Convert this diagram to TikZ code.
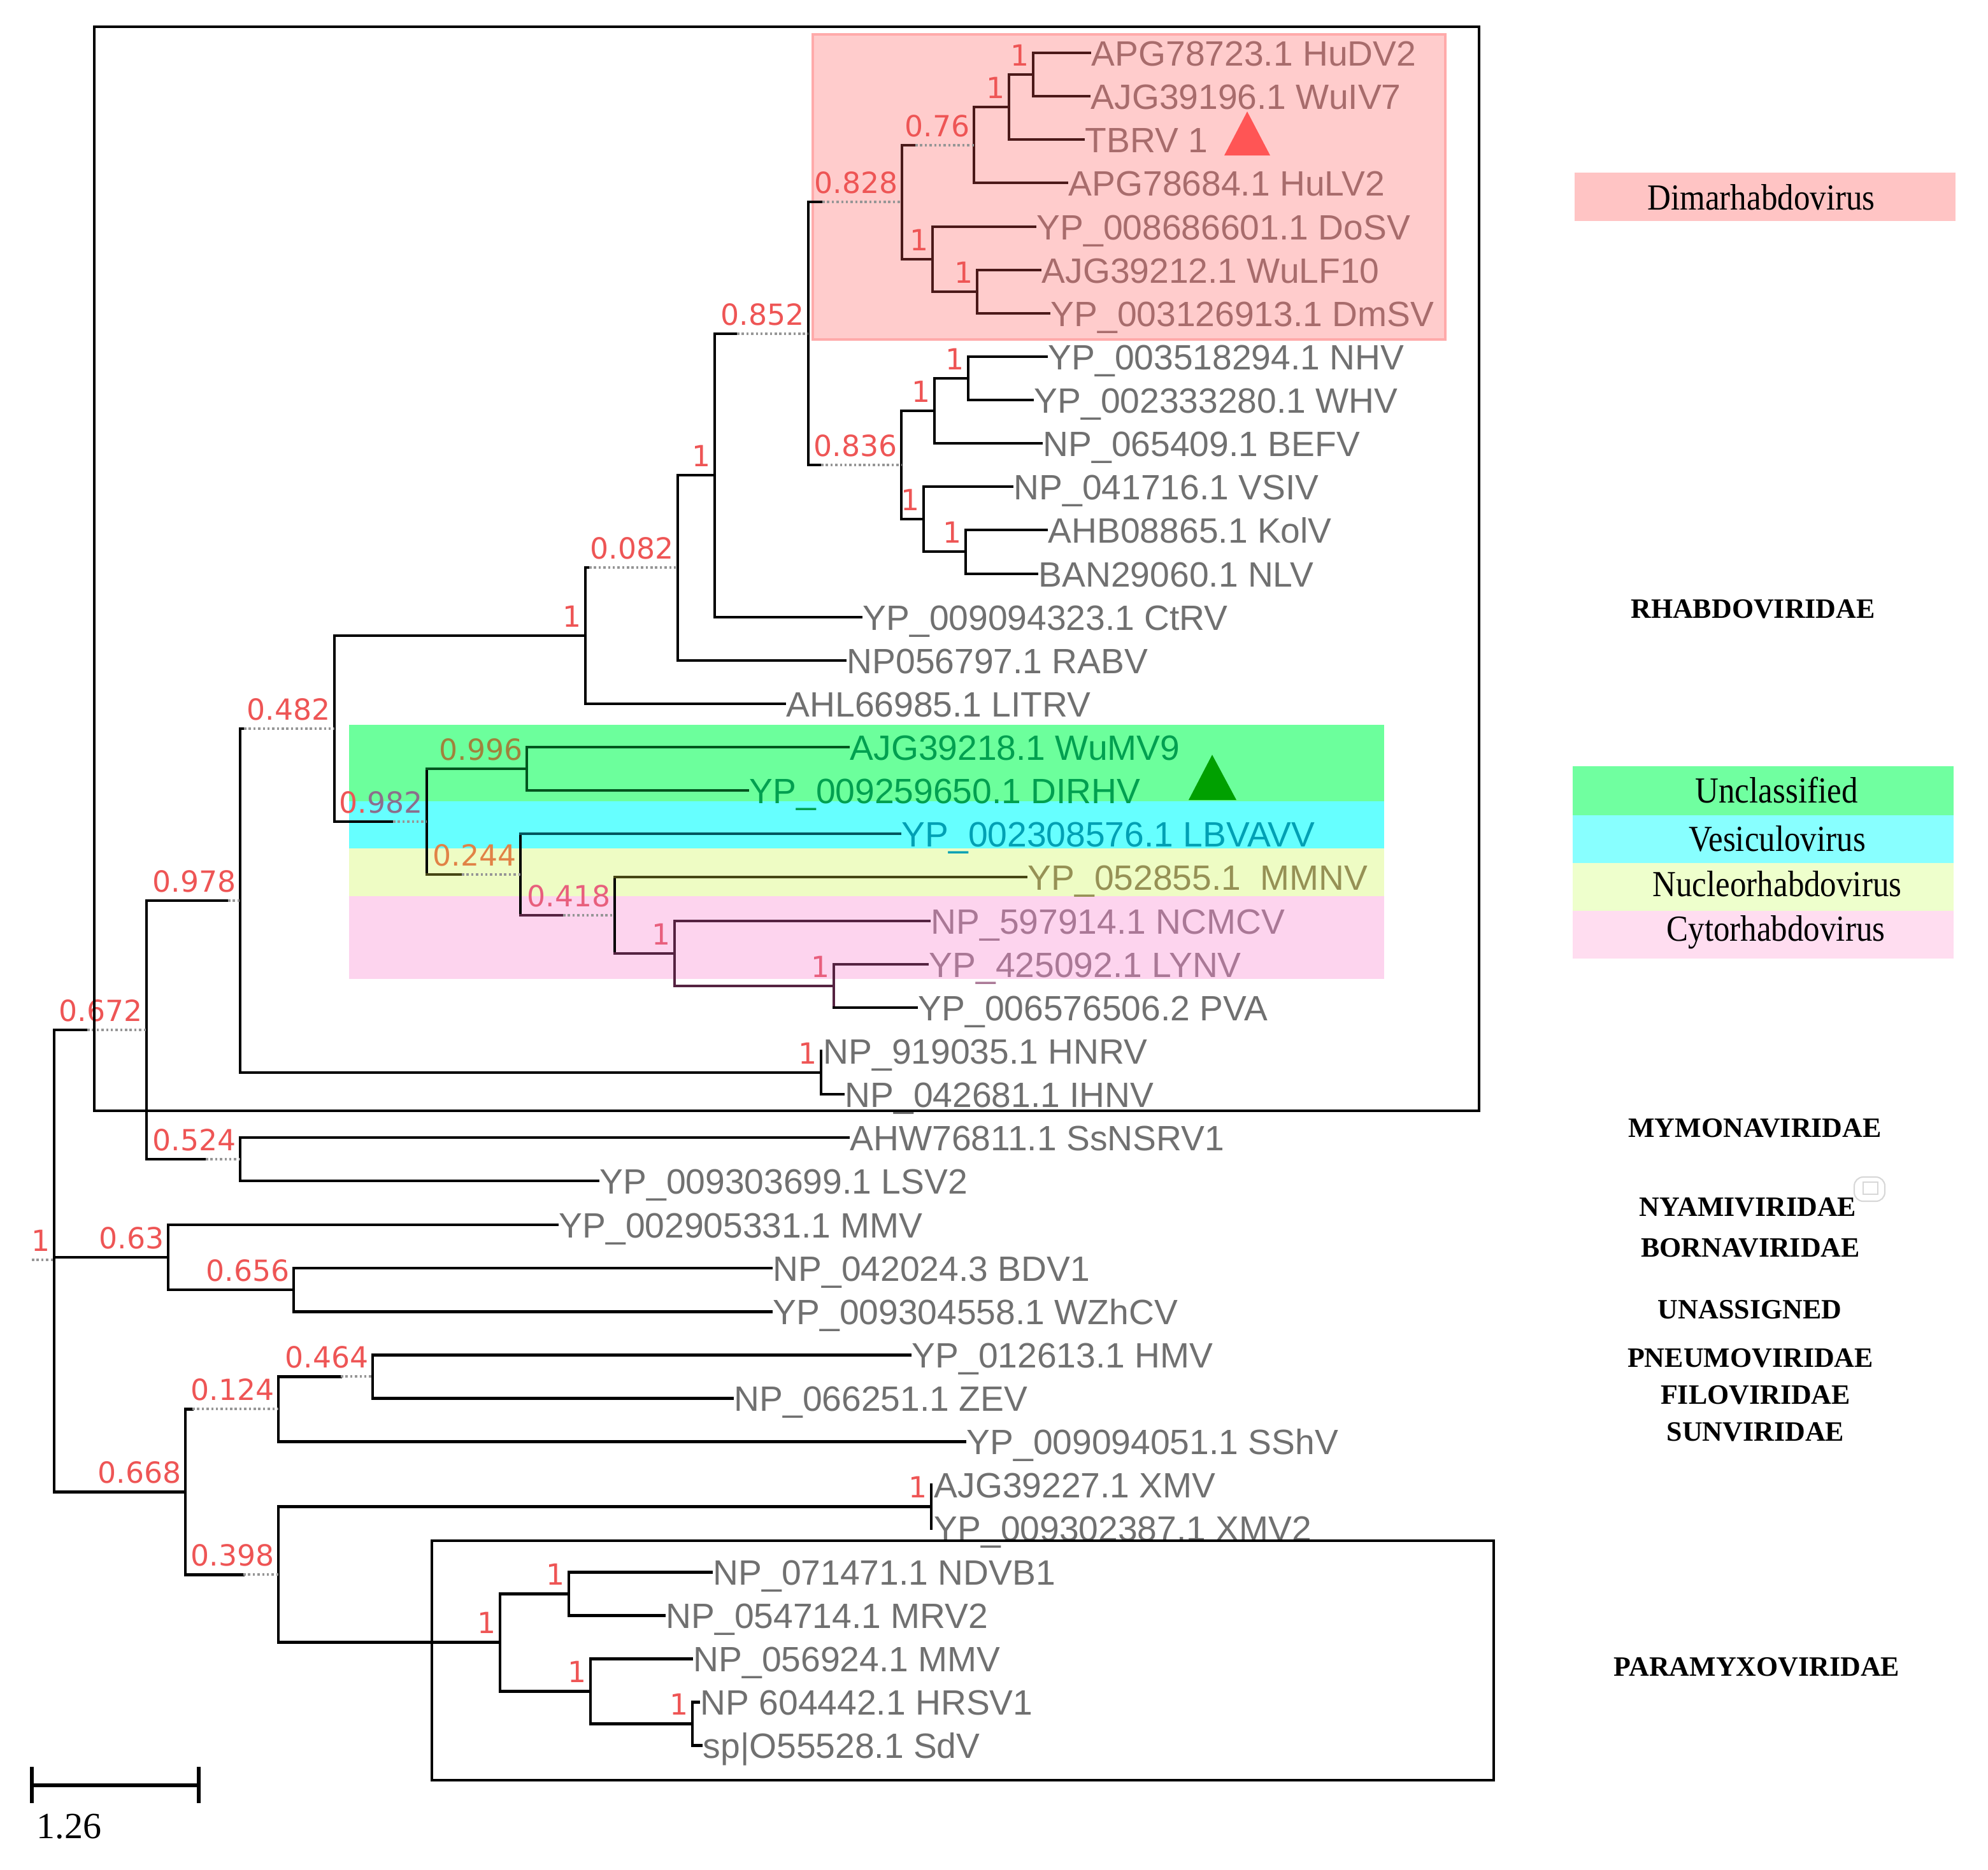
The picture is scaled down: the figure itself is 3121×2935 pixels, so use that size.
\documentclass[tikz,border=0pt]{standalone}
\usepackage{fontspec}
\setmainfont{Liberation Serif}
\newfontfamily\leaffont{Liberation Sans}
\newfontfamily\bsfont{DejaVu Sans}
\usepackage{graphicx}
\definecolor{leafgrey}{RGB}{112,112,112}
\definecolor{bsred}{RGB}{238,85,85}
\definecolor{dotgrey}{RGB}{150,150,150}
\definecolor{bandgreen}{RGB}{108,255,156}
\definecolor{bandcyan}{RGB}{102,255,255}
\definecolor{bandyellow}{RGB}{238,252,196}
\definecolor{bandpink}{RGB}{253,212,238}
\definecolor{dimpink}{RGB}{255,204,204}
\definecolor{dimedge}{RGB}{255,170,170}
\definecolor{legpink}{RGB}{255,196,196}
\definecolor{leggreen}{RGB}{112,255,160}
\definecolor{legcyan}{RGB}{136,255,255}
\definecolor{legyellow}{RGB}{238,255,204}
\definecolor{legmagenta}{RGB}{255,221,240}
\definecolor{trired}{RGB}{255,85,85}
\definecolor{trigreen}{RGB}{0,160,0}
\definecolor{iconedge}{RGB}{215,215,215}
% text tints inside coloured areas
\definecolor{gtext}{RGB}{0,160,80}
\definecolor{ctext}{RGB}{0,160,180}
\definecolor{ytext}{RGB}{150,145,85}
\definecolor{ptext}{RGB}{170,120,150}
\definecolor{dtext}{RGB}{168,108,108}
\definecolor{gbs}{RGB}{160,130,60}
\definecolor{ybs}{RGB}{225,130,70}
\definecolor{pbs}{RGB}{232,95,125}
\definecolor{cbs}{RGB}{140,110,140}
% line tints inside coloured areas
\definecolor{gline}{RGB}{0,85,30}
\definecolor{cline}{RGB}{0,85,95}
\definecolor{yline}{RGB}{70,70,20}
\definecolor{pline}{RGB}{85,35,65}
\definecolor{dline}{RGB}{75,25,25}
\newcommand\tkid[3][]{\draw[br,#1] (#2 |- #3) -- (#3);}
\newcommand\tdkid[4][]{\draw[br,#1] (#2 |- #3) -- ++(#4,0) coordinate (#3s); \draw[dotbr] (#3s) -- (#3);}
\newcommand\tvbar[4][]{\draw[br,#1] (#2 |- #3) -- (#2 |- #4);}
\begin{document}
\begin{tikzpicture}[x=0.01cm, y=-0.01cm,
  br/.style={line width=1.4pt, black, line cap=rect},
  dotbr/.style={line width=1.2pt, dotgrey, dash pattern=on 1pt off 1.1pt},
  leaf/.style={anchor=base west, inner sep=0pt, text=leafgrey, font=\leaffont\fontsize{15.7pt}{18pt}\selectfont},
  bs/.style={anchor=base east, inner sep=0pt, text=bsred, font=\bsfont\fontsize{13pt}{15pt}\selectfont},
  fam/.style={anchor=base, inner sep=0pt, text=black, font=\bfseries\fontsize{12.5pt}{15pt}\selectfont},
  legtxt/.style={anchor=base, inner sep=0pt, text=black, font=\fontsize{14.5pt}{17pt}\selectfont},
  boxline/.style={line width=1.3pt, black}]
\useasboundingbox (0,0) rectangle (3121,2935);

% ---------- legend ----------
\fill[legpink] (2472,271) rectangle (3070,347);
\fill[leggreen] (2469,1203) rectangle (3067,1280);
\fill[legcyan] (2469,1280) rectangle (3067,1355);
\fill[legyellow] (2469,1355) rectangle (3067,1430);
\fill[legmagenta] (2469,1430) rectangle (3067,1505);
\node[legtxt] (lgdim) at (2765,329) {\scalebox{1}[1.13]{Dimarhabdovirus}};
\node[legtxt] (lgunc) at (2789,1260) {\scalebox{1}[1.13]{Unclassified}};
\node[legtxt] (lgves) at (2790,1336) {\scalebox{1}[1.13]{Vesiculovirus}};
\node[legtxt] (lgnuc) at (2790,1407) {\scalebox{1}[1.13]{Nucleorhabdovirus}};
\node[legtxt] (lgcyt) at (2788,1477) {\scalebox{1}[1.13]{Cytorhabdovirus}};

% ---------- family labels ----------
\node[fam] (fRha) at (2752,970) {RHABDOVIRIDAE};
\node[fam] (fMym) at (2755,1785) {MYMONAVIRIDAE};
\node[fam] (fNya) at (2744,1909) {NYAMIVIRIDAE};
\node[fam] (fBor) at (2748,1973) {BORNAVIRIDAE};
\node[fam] (fUna) at (2747,2070) {UNASSIGNED};
\node[fam] (fPne) at (2748,2146) {PNEUMOVIRIDAE};
\node[fam] (fFil) at (2756,2204) {FILOVIRIDAE};
\node[fam] (fSun) at (2756,2262) {SUNVIRIDAE};
\node[fam] (fPar) at (2758,2631) {PARAMYXOVIRIDAE};
\draw[iconedge, line width=0.6pt, rounded corners=4pt] (2911,1848) rectangle (2959,1886);
\draw[iconedge, line width=0.6pt] (2925,1856) rectangle (2948,1875);

% ---------- coloured areas (behind the tree) ----------
\fill[bandgreen] (548,1138) rectangle (2173,1258);
\fill[bandcyan] (548,1258) rectangle (2173,1332);
\fill[bandyellow] (548,1332) rectangle (2173,1407);
\fill[bandpink] (548,1407) rectangle (2173,1537);
\filldraw[fill=dimpink, draw=dimedge, line width=1pt] (1276,54) rectangle (2269,533);

% ---------- tips ----------
\coordinate (t0) at (1711,83);
\coordinate (t1) at (1710,151);
\coordinate (t2) at (1701,219);
\coordinate (t3) at (1675,287);
\coordinate (t4) at (1625,356);
\coordinate (t5) at (1633,424);
\coordinate (t6) at (1647,492);
\coordinate (t7) at (1643,560);
\coordinate (t8) at (1621,628);
\coordinate (t9) at (1635,696);
\coordinate (t10) at (1589,764);
\coordinate (t11) at (1643,832);
\coordinate (t12) at (1628,901);
\coordinate (t13) at (1352,969);
\coordinate (t14) at (1327,1037);
\coordinate (t15) at (1232,1105);
\coordinate (t16) at (1332,1173);
\coordinate (t17) at (1174,1241);
\coordinate (t18) at (1413,1309);
\coordinate (t19) at (1611,1377);
\coordinate (t20) at (1459,1446);
\coordinate (t21) at (1456,1514);
\coordinate (t22) at (1439,1582);
\coordinate (t23) at (1289,1650);
\coordinate (t24) at (1324,1718);
\coordinate (t25) at (1332,1786);
\coordinate (t26) at (939,1854);
\coordinate (t27) at (875,1923);
\coordinate (t28) at (1211,1991);
\coordinate (t29) at (1211,2059);
\coordinate (t30) at (1429,2127);
\coordinate (t31) at (1150,2195);
\coordinate (t32) at (1515,2263);
\coordinate (t33) at (1462,2331);
\coordinate (t34) at (1462,2399);
\coordinate (t35) at (1117,2468);
\coordinate (t36) at (1043,2536);
\coordinate (t37) at (1086,2604);
\coordinate (t38) at (1097,2672);
\coordinate (t39) at (1101,2740);

% ---------- internal nodes ----------
\coordinate (A) at (1622,117);
\coordinate (B) at (1584,168);
\coordinate (C) at (1529,228);
\coordinate (G) at (1534,458);
\coordinate (E) at (1464,407);
\coordinate (D) at (1416,317);
\coordinate (H) at (1520,594);
\coordinate (I) at (1467,645);
\coordinate (J) at (1516,866);
\coordinate (K) at (1450,815);
\coordinate (L) at (1415,730);
\coordinate (F) at (1269,524);
\coordinate (M) at (1122,746);
\coordinate (N) at (1064,891);
\coordinate (O) at (919,998);
\coordinate (S) at (827,1207);
\coordinate (W) at (1309,1548);
\coordinate (V) at (1059,1497);
\coordinate (U) at (965,1437);
\coordinate (T) at (817,1373);
\coordinate (Q) at (670,1290);
\coordinate (P) at (525,1144);
\coordinate (X) at (1289,1684);
\coordinate (R) at (377,1414);
\coordinate (Z) at (377,1820);
\coordinate (Y) at (230,1617);
\coordinate (AC) at (461,2025);
\coordinate (AB) at (264,1974);
\coordinate (AG) at (585,2161);
\coordinate (AE) at (437,2212);
\coordinate (AH) at (1462,2365);
\coordinate (AJ) at (893,2502);
\coordinate (AL) at (1087,2706);
\coordinate (AK) at (927,2655);
\coordinate (AI) at (785,2578);
\coordinate (AF) at (437,2472);
\coordinate (AD) at (291,2342);
\coordinate (root) at (85,1978);
\coordinate (rootstub) at (50,1978);

% ---------- branches ----------
\tvbar[dline]{A}{t0}{t1} \tkid[dline]{A}{t0} \tkid[dline]{A}{t1}
\tvbar[dline]{B}{A}{t2} \tkid[dline]{B}{A} \tkid[dline]{B}{t2}
\tvbar[dline]{C}{B}{t3} \tkid[dline]{C}{B} \tkid[dline]{C}{t3}
\tvbar[dline]{G}{t5}{t6} \tkid[dline]{G}{t5} \tkid[dline]{G}{t6}
\tvbar[dline]{E}{t4}{G} \tkid[dline]{E}{t4} \tkid[dline]{E}{G}
\tvbar[dline]{D}{C}{E} \tdkid[dline]{D}{C}{21} \tkid[dline]{D}{E}
\tvbar{H}{t7}{t8} \tkid{H}{t7} \tkid{H}{t8}
\tvbar{I}{H}{t9} \tkid{I}{H} \tkid{I}{t9}
\tvbar{J}{t11}{t12} \tkid{J}{t11} \tkid{J}{t12}
\tvbar{K}{t10}{J} \tkid{K}{t10} \tkid{K}{J}
\tvbar{L}{I}{K} \tkid{L}{I} \tkid{L}{K}
\tvbar{F}{D}{L} \tdkid{F}{D}{22} \tdkid{F}{L}{20}
\tvbar{M}{F}{t13} \tdkid{M}{F}{35} \tkid{M}{t13}
\tvbar{N}{M}{t14} \tkid{N}{M} \tkid{N}{t14}
\tvbar{O}{N}{t15} \tdkid{O}{N}{6} \tkid{O}{t15}
\tvbar[gline]{S}{t16}{t17} \tkid[gline]{S}{t16} \tkid[gline]{S}{t17}
\tvbar[pline]{W}{t21}{t22} \tkid[pline]{W}{t21} \tkid{W}{t22}
\tvbar[pline]{V}{t20}{W} \tkid[pline]{V}{t20} \tkid[pline]{V}{W}
\tvbar{U}{t19}{V} \tkid[yline]{U}{t19} \tkid[pline]{U}{V}
\tvbar{T}{t18}{U} \tkid[cline]{T}{t18} \tdkid[pline]{T}{U}{67}
\tvbar{Q}{S}{T} \tkid[gline]{Q}{S} \tdkid[yline]{Q}{T}{55}
\tvbar{P}{O}{Q} \tkid{P}{O} \tdkid{P}{Q}{92}
\tvbar{X}{t23}{t24} \tkid{X}{t24}
\tvbar{R}{P}{X} \tdkid{R}{P}{6} \tkid{R}{X}
\tvbar{Z}{t25}{t26} \tkid{Z}{t25} \tkid{Z}{t26}
\tvbar{Y}{R}{Z} \tdkid{Y}{R}{128} \tdkid{Y}{Z}{93}
\tvbar{AC}{t28}{t29} \tkid{AC}{t28} \tkid{AC}{t29}
\tvbar{AB}{t27}{AC} \tkid{AB}{t27} \tkid{AB}{AC}
\tvbar{AG}{t30}{t31} \tkid{AG}{t30} \tkid{AG}{t31}
\tvbar{AE}{AG}{t32} \tdkid{AE}{AG}{98} \tkid{AE}{t32}
\tvbar{AH}{t33}{t34}
\tvbar{AJ}{t35}{t36} \tkid{AJ}{t35} \tkid{AJ}{t36}
\tvbar{AL}{t38}{t39} \tkid{AL}{t38} \tkid{AL}{t39}
\tvbar{AK}{t37}{AL} \tkid{AK}{t37} \tkid{AK}{AL}
\tvbar{AI}{AJ}{AK} \tkid{AI}{AJ} \tkid{AI}{AK}
\tvbar{AF}{AH}{AI} \tkid{AF}{AH} \tkid{AF}{AI}
\tvbar{AD}{AE}{AF} \tdkid{AD}{AE}{11} \tdkid{AD}{AF}{91}
\tvbar{root}{Y}{AD} \tdkid{root}{Y}{52} \tkid{root}{AB} \tkid{root}{AD}
\draw[dotbr] (rootstub) -- (root);

% ---------- leaf labels ----------
\node[leaf, text=dtext] (n0) at (1713,103) {APG78723.1 HuDV2};
\node[leaf, text=dtext] (n1) at (1712,171) {AJG39196.1 WuIV7};
\node[leaf, text=dtext] (n2) at (1703,239) {TBRV 1};
\node[leaf, text=dtext] (n3) at (1677,307) {APG78684.1 HuLV2};
\node[leaf, text=dtext] (n4) at (1627,376) {YP\_008686601.1 DoSV};
\node[leaf, text=dtext] (n5) at (1635,444) {AJG39212.1 WuLF10};
\node[leaf, text=dtext] (n6) at (1649,512) {YP\_003126913.1 DmSV};
\node[leaf] (n7) at (1645,580) {YP\_003518294.1 NHV};
\node[leaf] (n8) at (1623,648) {YP\_002333280.1 WHV};
\node[leaf] (n9) at (1637,716) {NP\_065409.1 BEFV};
\node[leaf] (n10) at (1591,784) {NP\_041716.1 VSIV};
\node[leaf] (n11) at (1645,852) {AHB08865.1 KolV};
\node[leaf] (n12) at (1630,921) {BAN29060.1 NLV};
\node[leaf] (n13) at (1354,989) {YP\_009094323.1 CtRV};
\node[leaf] (n14) at (1329,1057) {NP056797.1 RABV};
\node[leaf] (n15) at (1234,1125) {AHL66985.1 LITRV};
\node[leaf, text=gtext] (n16) at (1334,1193) {AJG39218.1 WuMV9};
\node[leaf, text=gtext] (n17) at (1176,1261) {YP\_009259650.1 DIRHV};
\node[leaf, text=ctext] (n18) at (1415,1329) {YP\_002308576.1 LBVAVV};
\node[leaf, text=ytext] (n19) at (1613,1397) {YP\_052855.1\ \ MMNV};
\node[leaf, text=ptext] (n20) at (1461,1466) {NP\_597914.1 NCMCV};
\node[leaf, text=ptext] (n21) at (1458,1534) {YP\_425092.1 LYNV};
\node[leaf] (n22) at (1441,1602) {YP\_006576506.2 PVA};
\node[leaf] (n23) at (1292,1670) {NP\_919035.1 HNRV};
\node[leaf] (n24) at (1326,1738) {NP\_042681.1 IHNV};
\node[leaf] (n25) at (1334,1806) {AHW76811.1 SsNSRV1};
\node[leaf] (n26) at (941,1874) {YP\_009303699.1 LSV2};
\node[leaf] (n27) at (877,1943) {YP\_002905331.1 MMV};
\node[leaf] (n28) at (1213,2011) {NP\_042024.3 BDV1};
\node[leaf] (n29) at (1213,2079) {YP\_009304558.1 WZhCV};
\node[leaf] (n30) at (1431,2147) {YP\_012613.1 HMV};
\node[leaf] (n31) at (1152,2215) {NP\_066251.1 ZEV};
\node[leaf] (n32) at (1517,2283) {YP\_009094051.1 SShV};
\node[leaf] (n33) at (1466,2351) {AJG39227.1 XMV};
\node[leaf] (n34) at (1466,2419) {YP\_009302387.1 XMV2};
\node[leaf] (n35) at (1119,2488) {NP\_071471.1 NDVB1};
\node[leaf] (n36) at (1045,2556) {NP\_054714.1 MRV2};
\node[leaf] (n37) at (1088,2624) {NP\_056924.1 MMV};
\node[leaf] (n38) at (1099,2692) {NP 604442.1 HRSV1};
\node[leaf] (n39) at (1103,2760) {sp|O55528.1 SdV};

% ---------- support values ----------
\node[bs] (bA) at (1616,103) {1};
\node[bs] (bB) at (1578,154) {1};
\node[bs] (bC) at (1523,214) {0.76};
\node[bs] (bD) at (1410,303) {0.828};
\node[bs] (bE) at (1458,393) {1};
\node[bs] (bG) at (1528,444) {1};
\node[bs] (bH) at (1514,580) {1};
\node[bs] (bI) at (1461,631) {1};
\node[bs] (bJ) at (1510,852) {1};
\node[bs] (bK) at (1444,801) {1};
\node[bs] (bL) at (1409,716) {0.836};
\node[bs] (bF) at (1263,510) {0.852};
\node[bs] (bM) at (1116,732) {1};
\node[bs] (bN) at (1058,877) {0.082};
\node[bs] (bO) at (913,984) {1};
\node[bs] (bP) at (519,1130) {0.482};
\node[bs] (bQ) at (664,1276) {\textcolor{bsred}{0.}\textcolor{cbs}{982}};
\node[bs, text=gbs] (bS) at (821,1193) {0.996};
\node[bs, text=ybs] (bT) at (811,1359) {0.244};
\node[bs, text=pbs] (bU) at (959,1423) {0.418};
\node[bs, text=pbs] (bV) at (1053,1483) {1};
\node[bs, text=pbs] (bW) at (1303,1534) {1};
\node[bs] (bX) at (1283,1670) {1};
\node[bs] (bR) at (371,1400) {0.978};
\node[bs] (bZ) at (371,1806) {0.524};
\node[bs] (bY) at (224,1603) {0.672};
\node[bs] (bAB) at (258,1960) {0.63};
\node[bs] (bAC) at (455,2011) {0.656};
\node[bs] (broot) at (79,1964) {1};
\node[bs] (bAE) at (431,2198) {0.124};
\node[bs] (bAG) at (579,2147) {0.464};
\node[bs] (bAD) at (285,2328) {0.668};
\node[bs] (bAF) at (431,2458) {0.398};
\node[bs] (bAH) at (1456,2351) {1};
\node[bs] (bAI) at (779,2564) {1};
\node[bs] (bAJ) at (887,2488) {1};
\node[bs] (bAK) at (921,2641) {1};
\node[bs] (bAL) at (1081,2692) {1};

% ---------- markers ----------
\fill[trired] (1958,175) -- (1994,244) -- (1922,244) -- cycle;
\fill[trigreen] (1903,1185) -- (1941,1256) -- (1866,1256) -- cycle;

% ---------- family boxes ----------
\draw[boxline] (148,42) rectangle (2322,1744);
\draw[boxline] (678,2419) rectangle (2345,2795);

% ---------- scale bar ----------
\coordinate (sb1) at (50,2803);
\coordinate (sb2) at (312,2803);
\draw[line width=1.5pt] (sb1) -- (sb2);
\draw[line width=1.5pt] (50,2774) -- (50,2831);
\draw[line width=1.5pt] (312,2774) -- (312,2831);
\node[anchor=base west, inner sep=0pt, font=\fontsize{16.5pt}{19pt}\selectfont] (sblabel) at (57,2886) {1.26};
\end{tikzpicture}
\end{document}
